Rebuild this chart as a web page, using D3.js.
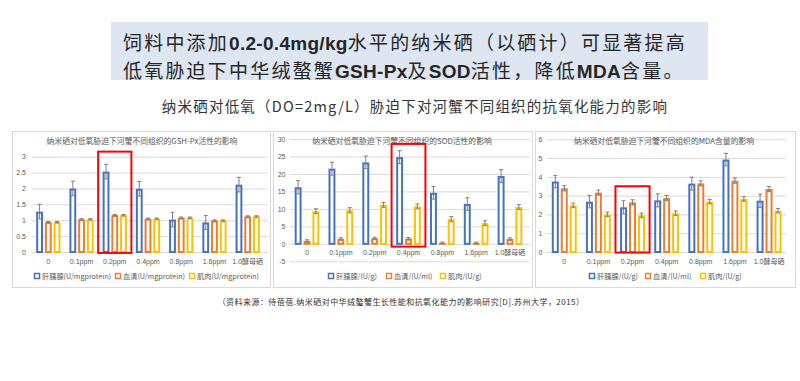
<!DOCTYPE html>
<html><head><meta charset="utf-8">
<script src="https://cdn.jsdelivr.net/npm/d3@7"></script>
<style>
body{margin:0;background:#fff;}
svg{display:block;font-family:"Noto Sans CJK SC","Liberation Sans",sans-serif;}
</style></head>
<body><svg id="c" width="800" height="381"></svg>
<script>
// ---------- data ----------
const categories = ["0","0.1ppm","0.2ppm","0.4ppm","0.8ppm","1.6ppm","1.0酵母硒"];
const seriesColors = ["#4472C4","#ED7D31","#FFC000"];

const gshTitle = "纳米硒对低氧胁迫下河蟹不同组织的GSH-Px活性的影响";
const gshLegend = ["肝胰腺(U/mgprotein)","血清(U/mgprotein)","肌肉(U/mgprotein)"];
const gshTicks = [0,0.5,1,1.5,2,2.5,3];
const gshLiver  = [1.27,2.00,2.53,1.99,1.02,0.93,2.12];
const gshSerum  = [0.94,1.03,1.16,1.05,1.08,0.99,1.12];
const gshMuscle = [0.94,1.03,1.16,1.05,1.08,0.99,1.12];
const gshLiverErr  = [0.23,0.23,0.23,0.23,0.23,0.22,0.23];
const gshSerumErr  = [0.02,0.02,0.02,0.02,0.02,0.02,0.02];
const gshMuscleErr = [0.02,0.02,0.02,0.02,0.02,0.02,0.02];
const gshHighlight = {category:"0.2ppm", top:3.16, bottom:-0.03};

const sodTitle = "纳米硒对低氧胁迫下河蟹不同组织的SOD活性的影响";
const sodLegend = ["肝胰腺/(U/g)","血清/(U/ml)","肌肉/(U/g)"];
const sodTicks = [-5,0,5,10,15,20,25,30];
const sodLiver  = [16.2,21.5,23.3,24.8,14.6,11.4,19.4];
const sodSerum  = [0.86,1.43,1.6,1.5,0.3,0.3,1.4];
const sodMuscle = [9.35,9.6,11.15,10.7,7.05,5.9,10.5];
const sodLiverErr  = [1.9,1.85,1.8,1.85,1.8,1.8,1.8];
const sodSerumErr  = [0.3,0.3,0.3,0.3,0.2,0.2,0.3];
const sodMuscleErr = [0.7,0.75,0.7,0.7,0.75,0.7,0.7];
const sodHighlight = {category:"0.4ppm", top:28.6, bottom:-0.8};

const mdaTitle = "纳米硒对低氧胁迫下河蟹不同组织的MDA含量的影响";
const mdaLegend = ["肝胰腺/(U/g)","血清/(U/ml)","肌肉/(U/g)"];
const mdaTicks = [0,1,2,3,4,5,6];
const mdaLiver  = [3.75,2.68,2.38,2.75,3.64,4.92,2.73];
const mdaSerum  = [3.39,3.16,2.64,2.87,3.65,3.8,3.35];
const mdaMuscle = [2.48,2.0,1.95,2.06,2.68,2.82,2.2];
const mdaLiverErr  = [0.33,0.33,0.35,0.35,0.34,0.33,0.35];
const mdaSerumErr  = [0.14,0.14,0.14,0.14,0.14,0.14,0.14];
const mdaMuscleErr = [0.12,0.12,0.12,0.12,0.12,0.12,0.12];
const mdaHighlight = {category:"0.2ppm", top:3.5, bottom:-0.03};

const headline1 = [["饲料中添加",false],["0.2-0.4mg/kg",true],["水平的纳米硒（以硒计）可显著提高",false]];
const headline2 = [["低氧胁迫下中华绒螯蟹",false],["GSH-Px",true],["及",false],["SOD",true],["活性，降低",false],["MDA",true],["含量。",false]];
const subtitle = "纳米硒对低氧（DO=2mg/L）胁迫下对河蟹不同组织的抗氧化能力的影响";
const source = "（资料来源：侍蓓蓓.纳米硒对中华绒螯蟹生长性能和抗氧化能力的影响研究[D].苏州大学，2015）";

// ---------- drawing ----------
const svg = d3.select("#c");

svg.append("rect").attr("x",111).attr("y",22).attr("width",597).attr("height",58).attr("fill","#dde5f0");
function headline(parts, y){
  const t = svg.append("text").attr("x",123).attr("y",y).attr("font-size",19).attr("fill","#262626");
  parts.forEach(([s,b])=>{
    t.append("tspan").text(s)
     .attr("font-weight",b?"bold":"normal")
     .attr("letter-spacing",b?0.3:2.2)
     .attr("font-family",b?"'Liberation Sans',Arial,sans-serif":"'Noto Sans CJK SC',sans-serif");
  });
}
headline(headline1, 50);
headline(headline2, 77.5);

svg.append("text").attr("x",415).attr("y",112).attr("text-anchor","middle")
  .attr("font-size",14.5).attr("letter-spacing",1.2).attr("fill","#333").text(subtitle);

svg.append("text").attr("x",401).attr("y",305).attr("text-anchor","middle")
  .attr("font-size",8).attr("letter-spacing",0.45).attr("fill","#333").text(source);

const panels = [
  {box:[12,131,258,156], title:gshTitle, titleX:142, legend:gshLegend, legendX:[34,115,189],
   ticks:gshTicks, values:[gshLiver,gshSerum,gshMuscle], errs:[gshLiverErr,gshSerumErr,gshMuscleErr],
   y:[252,156.7], grid:[31.5,268], band:[31.7,264.3], labelEnd:26, xLabelY:263.5, hl:gshHighlight},
  {box:[273,131,259,156], title:sodTitle, titleX:402, legend:sodLegend, legendX:[328,386,440],
   ticks:sodTicks, values:[sodLiver,sodSerum,sodMuscle], errs:[sodLiverErr,sodSerumErr,sodMuscleErr],
   y:[261.3,139], grid:[290,530], band:[290.1,526.9], labelEnd:285.5, xLabelY:255, hl:sodHighlight},
  {box:[535,131,260,156], title:mdaTitle, titleX:664, legend:mdaLegend, legendX:[589,645,700],
   ticks:mdaTicks, values:[mdaLiver,mdaSerum,mdaMuscle], errs:[mdaLiverErr,mdaSerumErr,mdaMuscleErr],
   y:[252,139.3], grid:[546.5,786], band:[547.2,786.1], labelEnd:542.5, xLabelY:263.5, hl:mdaHighlight}
];

panels.forEach(p=>{
  const g = svg.append("g");
  g.append("rect").attr("x",p.box[0]+0.5).attr("y",p.box[1]+0.5).attr("width",p.box[2]).attr("height",p.box[3])
    .attr("fill","#fff").attr("stroke","#d9d9d9").attr("stroke-width",1);

  const y = d3.scaleLinear().domain(d3.extent(p.ticks)).range(p.y);
  const x = d3.scaleBand().domain(categories).range(p.band).paddingInner(0.27).paddingOuter(0.135);
  const xs = d3.scaleBand().domain([0,1,2]).range([0,x.bandwidth()]).paddingInner(0.22);

  const ax = d3.axisLeft(y).tickValues(p.ticks).tickSize(-(p.grid[1]-p.grid[0])).tickPadding(p.grid[0]-p.labelEnd).tickFormat(d=>String(d));
  const ag = g.append("g").attr("transform",`translate(${p.grid[0]},0)`).call(ax);
  ag.select(".domain").remove();
  ag.selectAll("line").attr("stroke","#d9d9d9").attr("stroke-width",1);
  ag.selectAll("text").attr("fill","#595959").attr("font-size",7).attr("font-family","'Liberation Sans',Arial,sans-serif");

  g.append("text").attr("x",p.titleX).attr("y",143.5).attr("text-anchor","middle")
    .attr("font-size",7.8).attr("fill","#595959").text(p.title);

  const xa = d3.axisBottom(x).tickSize(0).tickPadding(0);
  const xg = g.append("g").attr("transform",`translate(0,${p.xLabelY})`).call(xa);
  xg.select(".domain").remove();
  xg.selectAll("text").attr("fill","#595959").attr("font-size",7).attr("dy","0")
    .attr("font-family","'Liberation Sans','Noto Sans CJK SC',sans-serif");

  p.values.forEach((vals,si)=>{
    const sg = g.append("g");
    sg.selectAll("rect").data(vals).join("rect")
      .attr("x",(d,i)=>x(categories[i])+xs(si)+1)
      .attr("y",d=>y(d)+1)
      .attr("width",xs.bandwidth()-2)
      .attr("height",d=>Math.max(0,y(0)-y(d)-1))
      .attr("fill","#fff").attr("stroke",seriesColors[si]).attr("stroke-width",2);
    const eg = g.append("g").attr("stroke","#7f7f7f").attr("stroke-width",1);
    vals.forEach((d,i)=>{
      const cx = x(categories[i])+xs(si)+xs.bandwidth()/2;
      const e = p.errs[si][i];
      eg.append("line").attr("x1",cx).attr("x2",cx).attr("y1",y(d-e)).attr("y2",y(d+e));
      eg.append("line").attr("x1",cx-2).attr("x2",cx+2).attr("y1",y(d-e)).attr("y2",y(d-e));
      eg.append("line").attr("x1",cx-2).attr("x2",cx+2).attr("y1",y(d+e)).attr("y2",y(d+e));
    });
  });

  const step = x.step();
  const hx = x(p.hl.category) + x.bandwidth()/2 - step/2;
  g.append("rect").attr("x",hx).attr("y",y(p.hl.top)).attr("width",step)
    .attr("height",y(p.hl.bottom)-y(p.hl.top))
    .attr("fill","none").attr("stroke","#ff0000").attr("stroke-width",2);

  p.legend.forEach((lab,i)=>{
    const lx = p.legendX[i];
    g.append("rect").attr("x",lx+0.5).attr("y",273.5).attr("width",5).attr("height",5)
      .attr("fill","#fff").attr("stroke",seriesColors[i]).attr("stroke-width",1.5);
    g.append("text").attr("x",lx+8).attr("y",279).attr("font-size",7.2).attr("fill","#595959").text(lab);
  });
});
</script></body></html>
